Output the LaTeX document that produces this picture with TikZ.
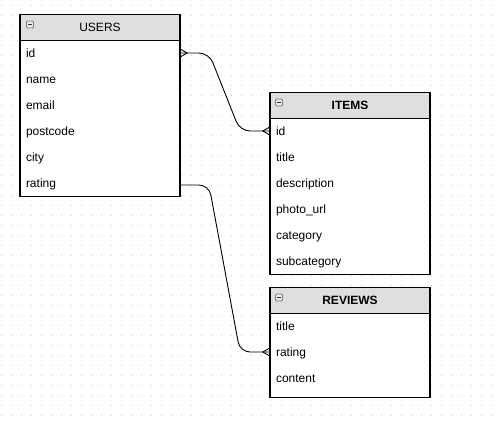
\documentclass[tikz,border=0pt]{standalone}
\usepackage{fontspec}
\setmainfont{Liberation Sans}
\usetikzlibrary{calc}
\definecolor{hdrgray}{HTML}{DFDFDF}
\definecolor{dotc}{HTML}{CFCFCF}
\definecolor{icofill}{HTML}{E6E8EC}
\definecolor{icoline}{HTML}{7A7F88}
\begin{document}
\begin{tikzpicture}[x=1pt,y=-1pt,
  tbl/.style={draw=black, line width=1.1pt, fill=white, minimum width=160pt, inner sep=0pt, anchor=north},
  hdr/.style={draw=black, line width=1.1pt, fill=hdrgray, minimum width=160pt, minimum height=26pt, inner sep=0pt, anchor=north, font=\fontsize{12}{14}\selectfont},
  hdrbold/.style={hdr, font=\fontsize{12}{14}\selectfont\bfseries},
  row/.style={text width=148pt, inner xsep=6pt, inner ysep=0pt, align=left, text height=11pt, text depth=2.4pt, font=\fontsize{12}{14}\selectfont},
  conn/.style={line width=0.9pt, rounded corners=10pt},
  foot/.style={line width=0.9pt},
  minusicon/.pic={
    \draw[draw=icoline, fill=icofill, line width=0.8pt, rounded corners=1pt] (0,0) rectangle (7,7);
    \draw[draw=black!80, line width=1pt] (1.8,3.5) -- (5.2,3.5);
  }
]
\useasboundingbox[fill=white] (0,0) rectangle (497,423);
\foreach \i in {1,11,...,491} {\foreach \j in {5,15,...,415} {\fill[dotc] (\i,\j) rectangle ++(1,1);}}

% USERS
\node[tbl, minimum height=182pt] (users) at (100,14) {};
\node[hdr] (usersh) at (users.north) {USERS};
\pic at ($(usersh.north west)+(7,7)$) {minusicon};
\node[row] (uid) at (100,53) {id};
\node[row] (uname) at (100,79) {name};
\node[row] (uemail) at (100,105) {email};
\node[row] (upost) at (100,131) {postcode};
\node[row] (ucity) at (100,157) {city};
\node[row] (urating) at (100,183) {rating};

% ITEMS
\node[tbl, minimum height=182pt] (items) at (350,92) {};
\node[hdrbold] (itemsh) at (items.north) {ITEMS};
\pic at ($(itemsh.north west)+(6,7)$) {minusicon};
\node[row] (iid) at (350,131) {id};
\node[row] (ititle) at (350,157) {title};
\node[row] (idesc) at (350,183) {description};
\node[row] (iphoto) at (350,209) {photo\_url};
\node[row] (icat) at (350,235) {category};
\node[row] (isub) at (350,261) {subcategory};

% REVIEWS
\node[tbl, minimum height=110pt] (reviews) at (350,287) {};
\node[hdrbold] (reviewsh) at (reviews.north) {REVIEWS};
\pic at ($(reviewsh.north west)+(6,7)$) {minusicon};
\node[row] (rtitle) at (350,326) {title};
\node[row] (rrating) at (350,352) {rating};
\node[row] (rcontent) at (350,378) {content};

% connectors
\coordinate (b1) at (209,53);
\coordinate (b2) at (240,131);
\draw[conn] (uid.east) -- (b1) -- (b2) -- (iid.west);
\draw[foot] ($(uid.east)+(0,-4)$) -- ($(uid.east)+(7,0)$) -- ($(uid.east)+(0,4)$);
\draw[foot] ($(iid.west)+(0,-4)$) -- ($(iid.west)+(-7,0)$) -- ($(iid.west)+(0,4)$);

\coordinate (b3) at (209,185);
\coordinate (b4) at (240,352);
\draw[conn] ($(urating.east)+(0,2)$) -- (b3) -- (b4) -- (rrating.west);
\draw[foot] ($(rrating.west)+(0,-4)$) -- ($(rrating.west)+(-7,0)$) -- ($(rrating.west)+(0,4)$);
\end{tikzpicture}
\end{document}
